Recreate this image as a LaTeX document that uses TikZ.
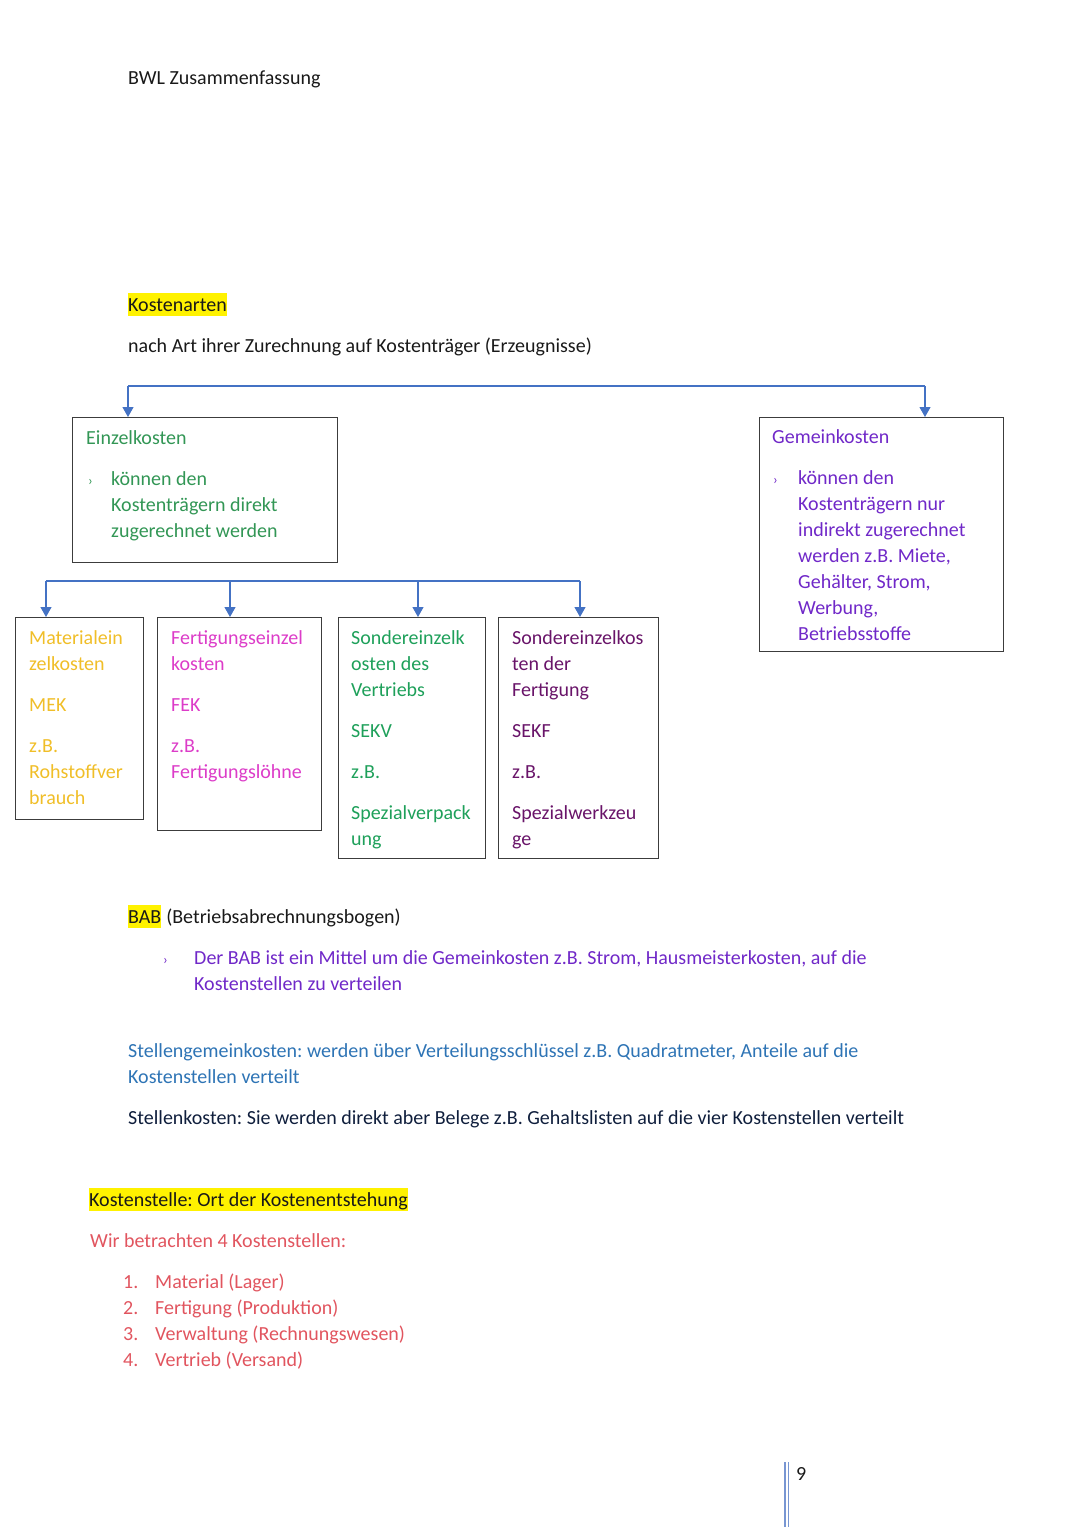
\documentclass[tikz,border=0pt]{standalone}
\usepackage{fontspec}
\setmainfont{Carlito}
\usetikzlibrary{arrows.meta,positioning}

\definecolor{schwarz}{RGB}{25,25,25}
\definecolor{rahmen}{RGB}{60,60,60}
\definecolor{pfeilblau}{RGB}{68,114,196}
\definecolor{einzelgruen}{RGB}{50,150,85}
\definecolor{gemeinlila}{RGB}{112,40,200}
\definecolor{mekgelb}{RGB}{240,190,40}
\definecolor{fekpink}{RGB}{220,60,200}
\definecolor{sekvgruen}{RGB}{30,160,90}
\definecolor{sekflila}{RGB}{105,20,105}
\definecolor{stellblau}{RGB}{46,116,181}
\definecolor{stelldunkel}{RGB}{15,30,60}
\definecolor{kstrot}{RGB}{225,85,95}
\definecolor{seitenblau}{RGB}{120,150,210}

\newcommand{\zeichen}{{\fontsize{14}{14}\selectfont ›}}

\begin{document}
\frenchspacing
\begin{tikzpicture}[x=1pt,y=-1pt,
    every node/.style={font=\fontsize{20}{26}\selectfont\frenchspacing, inner sep=0pt},
    txt/.style={anchor=base west, align=flush left, text=schwarz},
    block/.style={txt, text width=#1},
    feld/.style={draw=rahmen, line width=1.3pt, anchor=north west},
    gelb/.style={txt, fill=yellow, text height=18pt, text depth=5pt},
    link/.style={draw=pfeilblau, line width=1.1pt},
    pfeil/.style={link, -{Triangle[width=11pt,length=10pt]}}
]
\useasboundingbox (0,0) rectangle (1080,1527);

% Kopfzeile
\node[txt] (titel) at (128,84) {BWL Zusammenfassung};

\node[gelb] (kostenarten) at (128,311) {Kostenarten};
\node[txt] (zurechnung) at (128,352) {nach Art ihrer Zurechnung auf Kostenträger (Erzeugnisse)};

% Kaesten
\node[feld, minimum width=265, minimum height=145] (einzel) at (72,417) {};
\node[feld, minimum width=244, minimum height=234] (gemein) at (759,417) {};
\node[feld, minimum width=128, minimum height=202] (mek) at (15,617) {};
\node[feld, minimum width=164, minimum height=213] (fek) at (157,617) {};
\node[feld, minimum width=147, minimum height=241] (sekv) at (338,617) {};
\node[feld, minimum width=160, minimum height=241] (sekf) at (498,617) {};

\node[block=240pt, text=einzelgruen] (einzeltxt) at ([shift={(14,27)}]einzel.north west)
  {Einzelkosten\\[15pt]
   \makebox[25pt][l]{\hspace*{2pt}\zeichen}können den\\
   \hspace*{25pt}Kostenträgern direkt\\
   \hspace*{25pt}zugerechnet werden};

\node[block=225pt, text=gemeinlila] (gemeintxt) at ([shift={(13,26)}]gemein.north west)
  {Gemeinkosten\\[15pt]
   \makebox[26pt][l]{\hspace*{1pt}\zeichen}können den\\
   \hspace*{26pt}Kostenträgern nur\\
   \hspace*{26pt}indirekt zugerechnet\\
   \hspace*{26pt}werden z.B. Miete,\\
   \hspace*{26pt}Gehälter, Strom,\\
   \hspace*{26pt}Werbung,\\
   \hspace*{26pt}Betriebsstoffe};

\node[block=120pt, text=mekgelb] (mektxt) at ([shift={(14,27)}]mek.north west)
  {Materialein\\zelkosten\\[15pt]MEK\\[15pt]z.B.\\Rohstoffver\\brauch};

\node[block=150pt, text=fekpink] (fektxt) at ([shift={(14,27)}]fek.north west)
  {Fertigungseinzel\\kosten\\[15pt]FEK\\[15pt]z.B.\\Fertigungslöhne};

\node[block=140pt, text=sekvgruen] (sekvtxt) at ([shift={(13,27)}]sekv.north west)
  {Sondereinzelk\\osten des\\Vertriebs\\[15pt]SEKV\\[15pt]z.B.\\[15pt]Spezialverpack\\ung};

\node[block=150pt, text=sekflila] (sekftxt) at ([shift={(14,27)}]sekf.north west)
  {Sondereinzelkos\\ten der\\Fertigung\\[15pt]SEKF\\[15pt]z.B.\\[15pt]Spezialwerkzeu\\ge};

% Verbindungen oben
\coordinate (k1) at (128,386);
\coordinate (k2) at (925,386);
\draw[link] (k1) -- (k2);
\draw[pfeil] (k1) -- (k1 |- einzel.north);
\draw[pfeil] (k2) -- (k2 |- gemein.north);

% Verbindungen unten
\coordinate (s1) at (46,581);
\coordinate (s2) at (230,581);
\coordinate (s3) at (418,581);
\coordinate (s4) at (580,581);
\draw[link] (s1) -- (s4);
\draw[pfeil] (s1) -- (s1 |- mek.north);
\draw[pfeil] (s2) -- (s2 |- fek.north);
\draw[pfeil] (s3) -- (s3 |- sekv.north);
\draw[pfeil] (s4) -- (s4 |- sekf.north);

% BAB
\node[gelb] (bab) at (128,923) {BAB};
\node[txt] (babname) at (bab.base east) {\ (Betriebsabrechnungsbogen)};
\node[txt, text=gemeinlila] (babzeichen) at (163,964) {\zeichen};
\node[block=760pt, text=gemeinlila] (babtxt) at (194,964)
  {Der BAB ist ein Mittel um die Gemeinkosten z.B. Strom, Hausmeisterkosten, auf die\\
   Kostenstellen zu verteilen};

\node[block=800pt, text=stellblau] (stellgemein) at (128,1057)
  {Stellengemeinkosten: werden über Verteilungsschlüssel z.B. Quadratmeter, Anteile auf die\\
   Kostenstellen verteilt};
\node[txt, text=stelldunkel] (stellkosten) at (128,1124)
  {Stellenkosten: Sie werden direkt aber Belege z.B. Gehaltslisten auf die vier Kostenstellen verteilt};

% Kostenstellen
\node[gelb] (kostenstelle) at (89,1206) {Kostenstelle: Ort der Kostenentstehung};
\node[txt, text=kstrot] (betrachten) at (90,1247) {Wir betrachten 4 Kostenstellen:};
\foreach \i/\t in {1/Material (Lager),2/Fertigung (Produktion),3/Verwaltung (Rechnungswesen),4/Vertrieb (Versand)}{
  \node[txt, text=kstrot] (nr\i) at (123,{1288+26*(\i-1)}) {\i.};
  \node[txt, text=kstrot] (kst\i) at (155,{1288+26*(\i-1)}) {\t};
}

% Seitenzahl
\draw[seitenblau, line width=1.6pt] (785,1462) -- (785,1527);
\draw[seitenblau, line width=1.6pt] (788.5,1462) -- (788.5,1527);
\node[txt] (seite) at (796,1480) {9};
\end{tikzpicture}
\end{document}
